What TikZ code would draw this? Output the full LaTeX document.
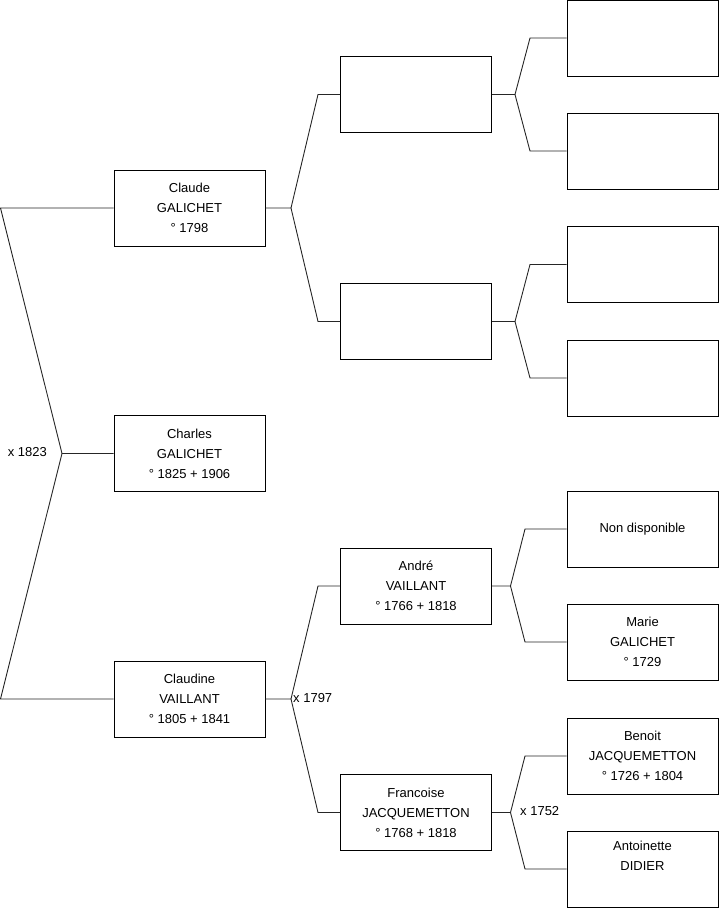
\documentclass[tikz,border=0pt]{standalone}
\usepackage{fontspec}
\setmainfont{Liberation Sans}
\begin{document}
\begin{tikzpicture}[x=1pt,y=-1pt,
  person/.style={draw=black,line width=0.9pt,fill=white,rectangle,minimum width=151pt,minimum height=76pt,inner sep=0pt,align=center,font=\fontsize{13}{20}\selectfont},
  link/.style={draw=black!85,line width=0.9pt},
  marr/.style={font=\fontsize{13}{14}\selectfont,inner sep=0pt}]
\useasboundingbox (0,0) rectangle (719,908);
% generation 1
\node[person] (claude) at (189.5,208) {Claude\\GALICHET\\° 1798};
\node[person] (charles) at (189.5,453.5) {Charles\\GALICHET\\° 1825 + 1906};
\node[person] (claudine) at (189.5,699) {Claudine\\VAILLANT\\° 1805 + 1841};
% generation 2
\node[person] (pa) at (416,94.5) {};
\node[person] (pb) at (416,321.5) {};
\node[person] (andre) at (416,586) {André\\VAILLANT\\° 1766 + 1818};
\node[person] (franc) at (416,812.5) {Francoise\\JACQUEMETTON\\° 1768 + 1818};
% generation 3
\node[person] (g1) at (642.5,38) {};
\node[person] (g2) at (642.5,151) {};
\node[person] (g3) at (642.5,264.5) {};
\node[person] (g4) at (642.5,378) {};
\node[person] (g5) at (642.5,529) {Non disponible};
\node[person] (g6) at (642.5,642) {Marie\\GALICHET\\° 1729};
\node[person] (g7) at (642.5,756) {Benoit\\JACQUEMETTON\\° 1726 + 1804};
\node[person] (g8) at (642.5,869) {Antoinette\\DIDIER\\\strut};
% root fork
\coordinate (r0) at (62,453.5);
\coordinate (r1) at (0.5,208);
\coordinate (r2) at (0.5,699);
\draw[link] (claude.west) -- (r1) -- (r0) -- (charles.west);
\draw[link] (r0) -- (r2) -- (claudine.west);
\node[marr,anchor=east] (m1) at (47,452) {x 1823};
% claude fork
\coordinate (c0) at (291,208);
\coordinate (c1) at (318,94.5);
\coordinate (c2) at (318,321.5);
\draw[link] (claude.east) -- (c0) -- (c1) -- (pa.west);
\draw[link] (c0) -- (c2) -- (pb.west);
% claudine fork
\coordinate (d0) at (291,699);
\coordinate (d1) at (318,586);
\coordinate (d2) at (318,812.5);
\draw[link] (claudine.east) -- (d0) -- (d1) -- (andre.west);
\draw[link] (d0) -- (d2) -- (franc.west);
\node[marr,anchor=west] (m2) at (293,698) {x 1797};
% pa fork
\coordinate (a0) at (515,94.5);
\coordinate (a1) at (530,38);
\coordinate (a2) at (530,151);
\draw[link] (pa.east) -- (a0) -- (a1) -- (g1.west);
\draw[link] (a0) -- (a2) -- (g2.west);
% pb fork
\coordinate (b0) at (515,321.5);
\coordinate (b1) at (530,264.5);
\coordinate (b2) at (530,378);
\draw[link] (pb.east) -- (b0) -- (b1) -- (g3.west);
\draw[link] (b0) -- (b2) -- (g4.west);
% andre fork
\coordinate (e0) at (510.5,586);
\coordinate (e1) at (525,529);
\coordinate (e2) at (525,642);
\draw[link] (andre.east) -- (e0) -- (e1) -- (g5.west);
\draw[link] (e0) -- (e2) -- (g6.west);
% francoise fork
\coordinate (h0) at (510.5,812.5);
\coordinate (h1) at (525,756);
\coordinate (h2) at (525,869);
\draw[link] (franc.east) -- (h0) -- (h1) -- (g7.west);
\draw[link] (h0) -- (h2) -- (g8.west);
\node[marr,anchor=west] (m3) at (520,811) {x 1752};
\end{tikzpicture}
\end{document}
